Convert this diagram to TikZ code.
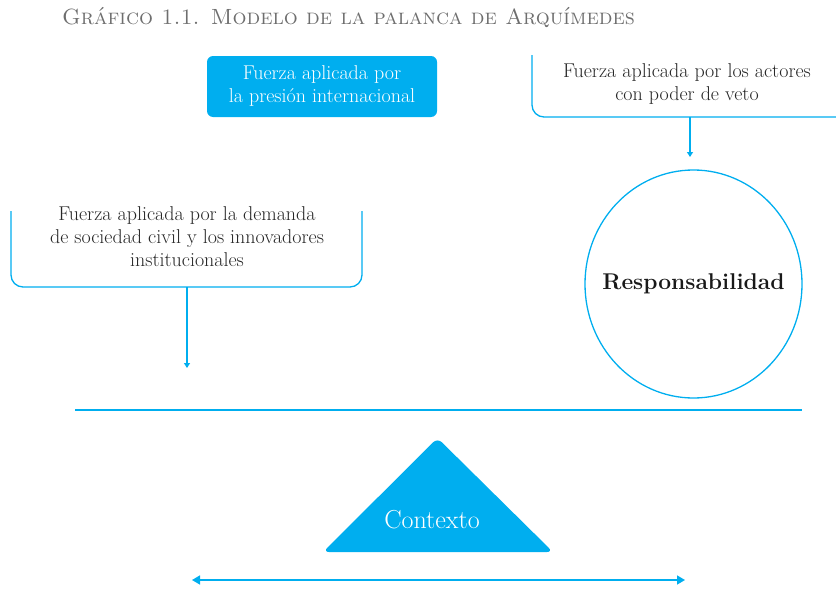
\documentclass[tikz,border=0pt]{standalone}
\usepackage{fontspec}
\usetikzlibrary{arrows.meta,shapes.geometric}
\definecolor{cyanb}{HTML}{00AEEF}
\definecolor{titlegray}{HTML}{6E6E6E}
\tikzset{
  bluebox/.style={fill=cyanb,rounded corners=6pt,text=white,align=center,font=\fontsize{20}{23}\selectfont},
  plaintext/.style={align=center,text=black!85,font=\fontsize{20}{23}\selectfont},
  bline/.style={draw=cyanb,line width=1.3pt},
  barrow/.style={draw=cyanb,line width=1.3pt,-{Triangle[width=6pt,length=5pt]}}
}
\begin{document}
\begin{tikzpicture}[x=1pt,y=-1pt]
\useasboundingbox (0,0) rectangle (836,589);
% title
\node[anchor=west,text=titlegray,font=\fontsize{22}{24}\selectfont\scshape,inner sep=0pt] (title) at (62,18) {Gráfico 1.1. Modelo de la palanca de Arquímedes};
% top blue box
\node[bluebox,minimum width=230pt,minimum height=61pt] (intl) at (322,86.5) {Fuerza aplicada por\\la presión internacional};
% right top bracket
\node[plaintext] (veto) at (687,84) {Fuerza aplicada por los actores\\con poder de veto};
\draw[bline,rounded corners=12pt] (532,55) -- (532,117) -- (836,117);
\coordinate (vetoout) at (690,117);
\coordinate (vetoend) at (690,157);
\draw[barrow] (vetoout) -- (vetoend);
% circle
\node[ellipse,draw=cyanb,line width=1.3pt,minimum width=217pt,minimum height=228pt,inner sep=0pt] (resp) at (693.5,284) {};
\node[font=\fontsize{22.8}{26}\selectfont\bfseries,text=black!90] (resplab) at (resp.center) {Responsabilidad};
% left bracket
\node[plaintext] (civil) at (187,237) {Fuerza aplicada por la demanda\\de sociedad civil y los innovadores\\institucionales};
\draw[bline,rounded corners=12pt] (11,211) -- (11,287) -- (362,287) -- (362,211);
\coordinate (civilout) at (187,287);
\coordinate (civilend) at (187,368);
\draw[barrow] (civilout) -- (civilend);
% beam
\coordinate (beamL) at (75,410);
\coordinate (beamR) at (802,410);
\draw[draw=cyanb,line width=2.6pt] (beamL) -- (beamR);
% triangle fulcrum
\coordinate (apex) at (437.5,438);
\coordinate (bl) at (323,552);
\coordinate (br) at (553,552);
\fill[cyanb,rounded corners=6pt] (apex) -- (br) -- (bl) -- cycle;
\node[text=white,font=\fontsize{26}{28}\selectfont] (ctx) at (432,520) {Contexto};
% double arrow
\coordinate (dL) at (192,580);
\coordinate (dR) at (685,580);
\draw[draw=cyanb,line width=1.6pt,{Triangle[width=9pt,length=8pt]}-{Triangle[width=9pt,length=8pt]}] (dL) -- (dR);
\end{tikzpicture}
\end{document}
